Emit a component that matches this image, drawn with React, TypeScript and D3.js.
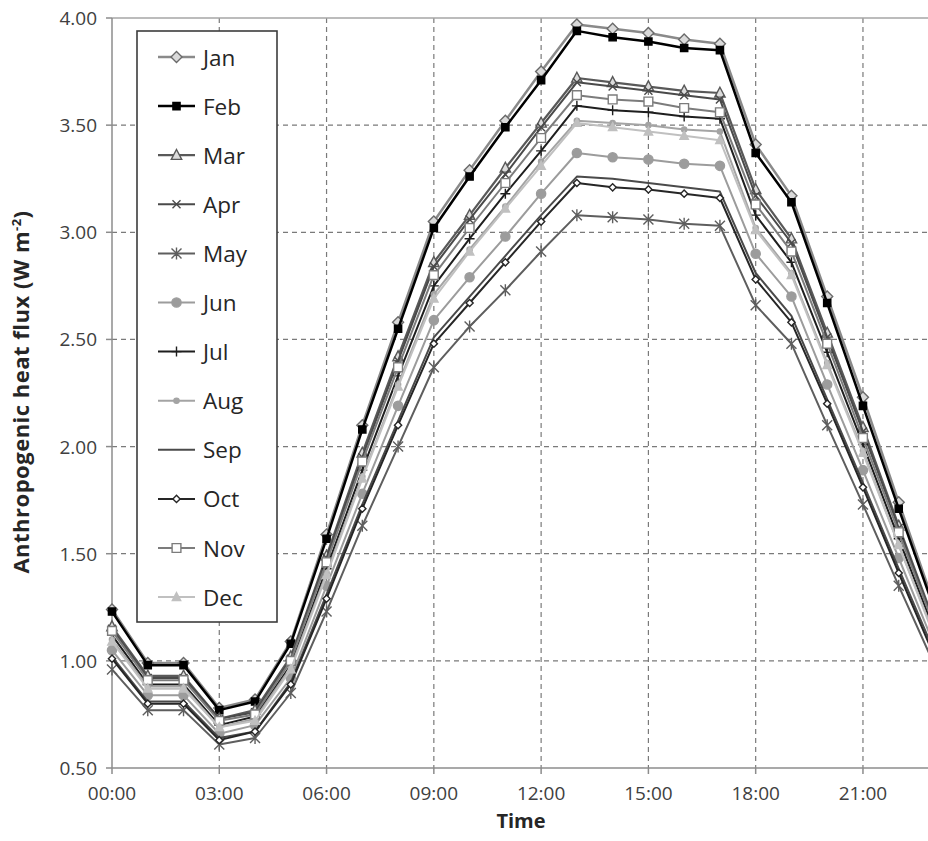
import React from "react";
import * as d3 from "d3";

// Hourly anthropogenic heat flux (W m-2) by month
const hours = [0, 1, 2, 3, 4, 5, 6, 7, 8, 9, 10, 11, 12, 13, 14, 15, 16, 17, 18, 19, 20, 21, 22, 23];
const months = ["Jan", "Feb", "Mar", "Apr", "May", "Jun", "Jul", "Aug", "Sep", "Oct", "Nov", "Dec"];

const jan = [1.24, 0.99, 0.99, 0.78, 0.82, 1.09, 1.59, 2.10, 2.58, 3.05, 3.29, 3.52, 3.75, 3.97, 3.95, 3.93, 3.90, 3.88, 3.41, 3.17, 2.70, 2.23, 1.74, 1.26];
const feb = [1.23, 0.98, 0.98, 0.77, 0.81, 1.08, 1.57, 2.08, 2.55, 3.02, 3.26, 3.49, 3.71, 3.94, 3.91, 3.89, 3.86, 3.85, 3.37, 3.14, 2.67, 2.19, 1.71, 1.24];
const mar = [1.16, 0.93, 0.93, 0.73, 0.77, 1.02, 1.49, 1.97, 2.42, 2.86, 3.08, 3.30, 3.51, 3.72, 3.70, 3.68, 3.66, 3.65, 3.20, 2.97, 2.53, 2.09, 1.63, 1.18];
const apr = [1.15, 0.92, 0.92, 0.73, 0.76, 1.01, 1.48, 1.95, 2.40, 2.84, 3.06, 3.27, 3.49, 3.70, 3.68, 3.66, 3.64, 3.62, 3.17, 2.95, 2.51, 2.07, 1.62, 1.17];
const may = [0.96, 0.77, 0.77, 0.61, 0.64, 0.85, 1.23, 1.63, 2.00, 2.37, 2.56, 2.73, 2.91, 3.08, 3.07, 3.06, 3.04, 3.03, 2.66, 2.48, 2.10, 1.73, 1.35, 0.98];
const jun = [1.05, 0.84, 0.84, 0.66, 0.70, 0.92, 1.35, 1.78, 2.19, 2.59, 2.79, 2.98, 3.18, 3.37, 3.35, 3.34, 3.32, 3.31, 2.90, 2.70, 2.29, 1.89, 1.48, 1.07];
const jul = [1.12, 0.89, 0.89, 0.70, 0.74, 0.98, 1.43, 1.89, 2.33, 2.75, 2.97, 3.18, 3.38, 3.59, 3.57, 3.56, 3.54, 3.53, 3.08, 2.86, 2.44, 2.01, 1.57, 1.14];
const aug = [1.10, 0.88, 0.88, 0.69, 0.73, 0.97, 1.41, 1.86, 2.29, 2.71, 2.92, 3.12, 3.33, 3.52, 3.51, 3.50, 3.48, 3.47, 3.02, 2.81, 2.39, 1.98, 1.54, 1.12];
const sep = [1.02, 0.81, 0.81, 0.64, 0.67, 0.90, 1.31, 1.73, 2.12, 2.51, 2.70, 2.89, 3.08, 3.26, 3.25, 3.23, 3.21, 3.19, 2.81, 2.61, 2.22, 1.83, 1.43, 1.04];
const oct = [1.01, 0.80, 0.80, 0.63, 0.67, 0.89, 1.29, 1.71, 2.10, 2.48, 2.67, 2.86, 3.05, 3.23, 3.21, 3.20, 3.18, 3.16, 2.78, 2.58, 2.20, 1.81, 1.41, 1.02];
const nov = [1.14, 0.91, 0.91, 0.72, 0.75, 1.00, 1.46, 1.93, 2.37, 2.80, 3.02, 3.23, 3.44, 3.64, 3.62, 3.61, 3.58, 3.56, 3.13, 2.91, 2.48, 2.04, 1.60, 1.16];
const dec = [1.09, 0.87, 0.87, 0.69, 0.72, 0.96, 1.40, 1.85, 2.28, 2.69, 2.91, 3.11, 3.31, 3.51, 3.49, 3.47, 3.45, 3.43, 3.01, 2.80, 2.38, 1.97, 1.54, 1.11];

const yTicks = [0.5, 1.0, 1.5, 2.0, 2.5, 3.0, 3.5, 4.0];
const xTicks = [0, 3, 6, 9, 12, 15, 18, 21];
const xTickLabels = ["00:00", "03:00", "06:00", "09:00", "12:00", "15:00", "18:00", "21:00"];

type Marker = "diamond" | "square" | "triangle" | "x" | "asterisk" | "circle" | "plus" | "none";
interface Style { stroke: string; width: number; marker: Marker; size: number; fill: string; mstroke: string; }

const styles: Style[] = [
  { stroke: "#8a8a8a", width: 2.5, marker: "diamond", size: 5.5, fill: "#dadada", mstroke: "#6a6a6a" },
  { stroke: "#000000", width: 2.5, marker: "square", size: 3.6, fill: "#000000", mstroke: "#000000" },
  { stroke: "#595959", width: 2.2, marker: "triangle", size: 5.2, fill: "#dcdcdc", mstroke: "#595959" },
  { stroke: "#4a4a4a", width: 2.0, marker: "x", size: 4, fill: "none", mstroke: "#4a4a4a" },
  { stroke: "#5e5e5e", width: 2.0, marker: "asterisk", size: 5, fill: "none", mstroke: "#5e5e5e" },
  { stroke: "#9c9c9c", width: 2.0, marker: "circle", size: 4.6, fill: "#9c9c9c", mstroke: "#9c9c9c" },
  { stroke: "#1e1e1e", width: 2.0, marker: "plus", size: 5, fill: "none", mstroke: "#1e1e1e" },
  { stroke: "#a4a4a4", width: 2.0, marker: "circle", size: 2.6, fill: "#a4a4a4", mstroke: "#a4a4a4" },
  { stroke: "#4a4a4a", width: 2.0, marker: "none", size: 0, fill: "none", mstroke: "#4a4a4a" },
  { stroke: "#262626", width: 2.0, marker: "diamond", size: 3.6, fill: "#ffffff", mstroke: "#262626" },
  { stroke: "#7c7c7c", width: 2.0, marker: "square", size: 4.4, fill: "#ffffff", mstroke: "#7c7c7c" },
  { stroke: "#c0c0c0", width: 2.0, marker: "triangle", size: 4.2, fill: "#c0c0c0", mstroke: "#c0c0c0" },
];

const seriesValues = [jan, feb, mar, apr, may, jun, jul, aug, sep, oct, nov, dec];

const W = 928;
const H = 841;
const x = d3.scaleLinear().domain([0, 23]).range([112, 112 + 23 * 35.76]);
const y = d3.scaleLinear().domain([0.5, 4.0]).range([768, 18]);
const plotRight = W;

function markerPath(kind: Marker, s: number): string {
  switch (kind) {
    case "diamond":
      return `M0,${-s}L${s},0L0,${s}L${-s},0Z`;
    case "square":
      return `M${-s},${-s}H${s}V${s}H${-s}Z`;
    case "triangle":
      return `M0,${-s * 1.1}L${s},${s * 0.8}L${-s},${s * 0.8}Z`;
    case "x":
      return `M${-s},${-s}L${s},${s}M${-s},${s}L${s},${-s}`;
    case "asterisk":
      return `M${-s},${-s}L${s},${s}M${-s},${s}L${s},${-s}M0,${-s * 1.2}V${s * 1.2}`;
    case "plus":
      return `M${-s},0H${s}M0,${-s}V${s}`;
    case "circle":
      return `M${s},0A${s},${s} 0 1,1 ${-s},0A${s},${s} 0 1,1 ${s},0Z`;
    default:
      return "";
  }
}

const font = "'Open Sans', 'DejaVu Sans', sans-serif";

export default function App() {
  const line = d3
    .line<number>()
    .x((_, i) => x(hours[i]))
    .y((v) => y(v));

  const legendX0 = 137;
  const legendY0 = 31;
  const legendW = 140;
  const legendH = 591;
  const legendRow0 = 57;
  const legendStep = 49.1;

  return (
    <svg
      width={W}
      height={H}
      viewBox={`0 0 ${W} ${H}`}
      style={{ position: "absolute", left: 0, top: 0, background: "#fff" }}
      fontFamily={font}
    >
      <defs>
        <clipPath id="plot-clip">
          <rect x={0} y={0} width={W} height={H} />
        </clipPath>
      </defs>

      {/* gridlines */}
      <g stroke="#7a7a7a" strokeWidth={1.2} strokeDasharray="5,4">
        {yTicks.slice(1, -1).map((t) => (
          <line key={`gy${t}`} x1={x(0)} x2={plotRight} y1={y(t)} y2={y(t)} />
        ))}
        {xTicks.slice(1).map((t) => (
          <line key={`gx${t}`} x1={x(t)} x2={x(t)} y1={y(4.0)} y2={y(0.5)} />
        ))}
      </g>

      {/* axes and frame */}
      <g stroke="#8c8c8c" strokeWidth={1.5} fill="none">
        <line x1={x(0)} x2={plotRight} y1={y(4.0)} y2={y(4.0)} stroke="#a6a6a6" />
        <line x1={x(0)} x2={x(0)} y1={y(4.0)} y2={y(0.5)} />
        <line x1={x(0)} x2={plotRight} y1={y(0.5)} y2={y(0.5)} />
        {yTicks.map((t) => (
          <line key={`ty${t}`} x1={x(0) - 6} x2={x(0)} y1={y(t)} y2={y(t)} />
        ))}
        {xTicks.map((t) => (
          <line key={`tx${t}`} x1={x(t)} x2={x(t)} y1={y(0.5)} y2={y(0.5) + 6} />
        ))}
      </g>

      {/* tick labels */}
      <g fill="#404040" fontSize={19}>
        {yTicks.map((t) => (
          <text key={`ly${t}`} x={97} y={y(t)} textAnchor="end" dominantBaseline="central">
            {t.toFixed(2)}
          </text>
        ))}
        {xTicks.map((t, i) => (
          <text key={`lx${t}`} x={x(t)} y={800} textAnchor="middle">
            {xTickLabels[i]}
          </text>
        ))}
      </g>

      {/* axis titles */}
      <text x={521} y={828} textAnchor="middle" fontSize={20} fontWeight="bold" fill="#262626">
        Time
      </text>
      <text
        transform="translate(29,392) rotate(-90)"
        textAnchor="middle"
        fontSize={22}
        letterSpacing={0.5}
        fontWeight="bold"
        fill="#262626"
      >
        Anthropogenic heat flux (W m
        <tspan dy={-8} fontSize={13}>-2</tspan>
        <tspan dy={8}>)</tspan>
      </text>

      {/* series */}
      <g clipPath="url(#plot-clip)">
        {seriesValues.map((vals, si) => {
          const st = styles[si];
          return (
            <g key={months[si]}>
              <path d={line(vals) ?? ""} fill="none" stroke={st.stroke} strokeWidth={st.width} strokeLinejoin="round" />
              {st.marker !== "none" &&
                vals.map((v, i) => (
                  <path
                    key={i}
                    transform={`translate(${x(hours[i])},${y(v)})`}
                    d={markerPath(st.marker, st.size)}
                    fill={st.fill}
                    stroke={st.mstroke}
                    strokeWidth={1.4}
                  />
                ))}
            </g>
          );
        })}
      </g>

      {/* legend */}
      <rect x={legendX0} y={legendY0} width={legendW} height={legendH} fill="#ffffff" stroke="#3c3c3c" strokeWidth={1.6} />
      {months.map((m, i) => {
        const st = styles[i];
        const cy = legendRow0 + i * legendStep;
        return (
          <g key={`leg${m}`}>
            <line x1={158} x2={195} y1={cy} y2={cy} stroke={st.stroke} strokeWidth={st.width} />
            {st.marker !== "none" && (
              <path
                transform={`translate(176.5,${cy})`}
                d={markerPath(st.marker, st.size)}
                fill={st.fill}
                stroke={st.mstroke}
                strokeWidth={1.4}
              />
            )}
            <text x={203} y={cy} dominantBaseline="central" fontSize={22.5} fill="#262626">
              {m}
            </text>
          </g>
        );
      })}
    </svg>
  );
}
